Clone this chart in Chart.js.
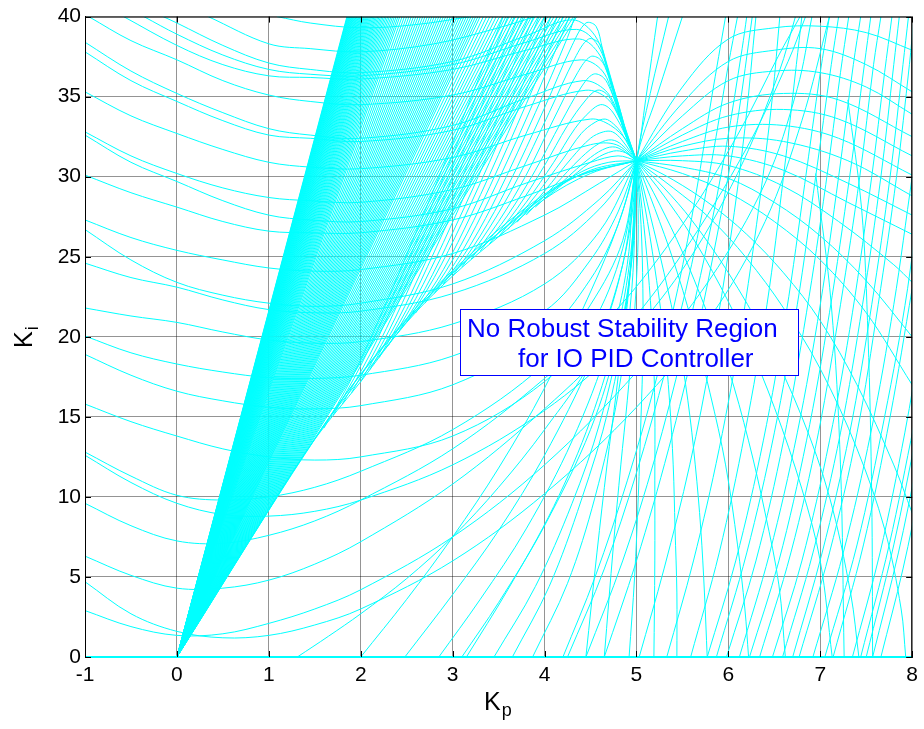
<!DOCTYPE html>
<html lang="en">
<head>
    <meta charset="UTF-8">
    <title>No Robust Stability Region</title>
    <script src="https://cdn.jsdelivr.net/npm/chart.js"></script>
    <style>
        body { margin: 0; background: #fff; }
        canvas { display: block; }
    </style>
</head>
<body>
    <canvas id="myChart" width="924" height="729"></canvas>

    <script>
        // axis ticks
        const xTicks = [-1, 0, 1, 2, 3, 4, 5, 6, 7, 8];
        const yTicks = [0, 5, 10, 15, 20, 25, 30, 35, 40];

        // straight lines from the origin, Kp where each one leaves the top (Ki = 40)
        const fanTopKp = [1.850, 1.855, 1.860, 1.866, 1.872, 1.878, 1.884, 1.890, 1.897, 1.904, 1.911, 1.918,
            1.925, 1.933, 1.941, 1.949, 1.957, 1.965, 1.974, 1.983, 1.992, 2.001, 2.010, 2.020, 2.030, 2.040,
            2.051, 2.062, 2.073, 2.084, 2.096, 2.108, 2.120, 2.133, 2.146, 2.159, 2.172, 2.186, 2.200, 2.215,
            2.230, 2.245, 2.261, 2.277, 2.294, 2.311, 2.329, 2.347, 2.366, 2.385, 2.405,
            2.425, 2.45, 2.475, 2.50, 2.525, 2.55, 2.575, 2.60, 2.625, 2.65, 2.675, 2.70, 2.725, 2.75, 2.775,
            2.80, 2.825, 2.85, 2.875, 2.90, 2.925, 2.95, 2.975, 3.00, 3.025, 3.05, 3.075, 3.10, 3.125, 3.15,
            3.175, 3.20, 3.225, 3.25, 3.275, 3.30,
            3.335, 3.37, 3.405, 3.44, 3.475, 3.51, 3.545, 3.58, 3.615, 3.65, 3.685, 3.72, 3.755, 3.79, 3.825,
            3.86, 3.895, 3.93, 3.965, 4.00, 4.035, 4.07, 4.105, 4.14, 4.175, 4.21, 4.245, 4.28, 4.315, 4.35];

        // lower edge of the fan running into the cusp at (5, 31)   [Kp, Ki, Kp, Ki, ...]
        const envelopeCurves = [
            [0, 0, 1, 9.2, 1.5, 13.6, 2, 17.2, 2.5, 20.9, 3, 23.8, 3.5, 26.25, 4, 28.6, 4.5, 30.2, 5, 31],
            [0, 0, 1.5, 13.65, 2.2, 18.8, 2.8, 22.9, 3.4, 26.0, 4.0, 28.8, 4.5, 30.4, 5, 31],
            [0, 0, 1.6, 14.5, 2.4, 20.4, 3.1, 24.5, 3.7, 27.4, 4.3, 29.9, 5, 31],
            [0, 0, 1.7, 15.3, 2.6, 21.8, 3.3, 25.7, 3.9, 28.5, 4.4, 30.3, 4.7, 30.9, 5, 31]
        ];

        // curves peeling off the lower edge, going up to the top or arching into the cusp
        const peelCurves = [
            [1.6, 14.3, 1.9, 17.4, 2.2, 21.1, 2.6, 26.5, 3.1, 33.5, 3.55, 40],
            [1.7, 15.1, 2.0, 18.2, 2.3, 21.9, 2.7, 27.2, 3.2, 34.2, 3.6, 40],
            [1.8, 15.8, 2.1, 18.9, 2.4, 22.6, 2.8, 27.9, 3.3, 34.9, 3.67, 40],
            [1.9, 16.5, 2.2, 19.6, 2.5, 23.3, 2.9, 28.6, 3.4, 35.6, 3.72, 40],
            [2.0, 17.2, 2.3, 20.3, 2.6, 24.0, 3.0, 29.3, 3.5, 36.3, 3.77, 40],
            [2.1, 17.95, 2.4, 21.0, 2.7, 24.6, 3.1, 29.9, 3.6, 36.9, 3.83, 40],
            [2.2, 18.7, 2.5, 21.7, 2.8, 25.3, 3.2, 30.5, 3.7, 37.5, 3.88, 40],
            [2.3, 19.45, 2.6, 22.4, 2.9, 25.9, 3.3, 31.1, 3.8, 38.0, 3.94, 40],
            [2.4, 20.2, 2.7, 23.0, 3.0, 26.5, 3.4, 31.6, 3.9, 38.5, 4.0, 40],
            [2.5, 20.9, 2.8, 23.7, 3.1, 27.1, 3.5, 32.2, 4.0, 39.0, 4.07, 40],
            [2.6, 21.5, 2.9, 24.2, 3.2, 27.6, 3.6, 32.7, 4.05, 38.8, 4.14, 40],
            [2.7, 22.1, 3.0, 24.8, 3.3, 28.1, 3.7, 33.2, 4.1, 38.6, 4.2, 40],
            [2.8, 22.7, 3.1, 25.3, 3.4, 28.6, 3.8, 33.6, 4.2, 39.0, 4.27, 40],
            [2.9, 23.3, 3.2, 25.8, 3.5, 29.0, 3.9, 34.0, 4.25, 38.7, 4.33, 40],
            [3.0, 23.8, 3.3, 26.3, 3.6, 29.4, 4.0, 34.3, 4.3, 38.2, 4.45, 39.6, 4.56, 39.4, 4.63, 38.0, 4.73, 36.0, 4.83, 34.0, 4.92, 32.0, 5, 31],
            [3.1, 24.35, 3.4, 26.8, 3.7, 29.8, 4.05, 34.0, 4.33, 37.4, 4.48, 38.6, 4.6, 38.3, 4.66, 37.3, 4.75, 35.5, 4.85, 33.5, 4.94, 31.8, 5, 31],
            [3.2, 24.85, 3.5, 27.2, 3.8, 30.1, 4.1, 33.6, 4.36, 36.5, 4.5, 37.5, 4.61, 37.3, 4.69, 36.4, 4.78, 35.0, 4.87, 33.2, 5, 31],
            [3.3, 25.35, 3.6, 27.6, 3.9, 30.4, 4.18, 33.4, 4.4, 35.6, 4.53, 36.4, 4.64, 36.2, 4.72, 35.4, 4.82, 34.0, 4.9, 32.6, 5, 31],
            [3.4, 25.8, 3.7, 28.0, 4.0, 30.7, 4.25, 33.2, 4.45, 34.8, 4.57, 35.4, 4.67, 35.2, 4.75, 34.5, 4.85, 33.2, 5, 31],
            [3.5, 26.25, 3.8, 28.4, 4.1, 30.9, 4.33, 33.0, 4.5, 34.1, 4.61, 34.5, 4.7, 34.3, 4.79, 33.6, 4.88, 32.6, 5, 31],
            [3.6, 26.7, 3.9, 28.8, 4.2, 31.1, 4.4, 32.7, 4.55, 33.4, 4.66, 33.6, 4.75, 33.3, 4.84, 32.7, 5, 31],
            [3.7, 27.15, 4.0, 29.1, 4.3, 31.2, 4.5, 32.4, 4.64, 32.8, 4.74, 32.8, 4.84, 32.3, 5, 31],
            [3.8, 27.6, 4.1, 29.4, 4.4, 31.2, 4.6, 32.1, 4.73, 32.3, 4.84, 32.0, 5, 31],
            [3.9, 28.1, 4.2, 29.7, 4.5, 31.2, 4.68, 31.8, 4.8, 31.8, 5, 31],
            [4.0, 28.6, 4.3, 30.0, 4.55, 31.1, 4.75, 31.6, 4.88, 31.5, 5, 31]
        ];

        // U-shaped curves coming in from the left / top
        const leftArcs = [
            [1.09, 40, 1.45, 39.6, 2, 39.3, 2.6, 39.5, 3.2, 40],
            [0.34, 40, 1, 38.3, 1.45, 38.0, 2, 37.8, 2.8, 38.3, 3.5, 39.3, 3.9, 40],
            [-0.15, 40, 0, 39.6, 0.5, 38.2, 1, 37.1, 1.45, 36.7, 2, 36.5, 3, 37.2, 3.8, 38.8, 4.3, 39.8, 4.55, 38.8, 4.7, 36.4, 4.85, 33.4, 5, 31],
            [-0.36, 40, 0, 38.9, 0.5, 37.6, 1, 36.7, 1.45, 36.4, 2, 36.3, 3, 37.0, 3.8, 38.4, 4.35, 39.2, 4.58, 38.2, 4.72, 35.9, 4.86, 33.0, 5, 31],
            [-0.58, 40, 0, 38.2, 0.5, 37.0, 1, 36.3, 1.45, 36.2, 2, 36.1, 3, 36.7, 3.8, 37.9, 4.38, 38.6, 4.6, 37.6, 4.74, 35.4, 4.87, 32.8, 5, 31],
            [-0.96, 40, -0.5, 38.5, 0, 37.3, 0.5, 36.0, 1, 35.1, 1.45, 34.7, 2, 34.5, 3, 35.1, 3.8, 36.4, 4.4, 37.3, 4.63, 36.6, 4.76, 34.8, 4.88, 32.6, 5, 31],
            [-1, 38.4, -0.5, 36.6, 0, 35.2, 0.5, 34.0, 1, 33.0, 1.45, 32.6, 2, 32.4, 3, 33.2, 3.8, 34.9, 4.42, 36.0, 4.66, 35.4, 4.8, 34.0, 4.9, 32.4, 5, 31],
            [-1, 37.8, -0.5, 36.0, 0, 34.7, 0.5, 33.5, 1, 32.6, 1.45, 32.4, 2, 32.2, 3, 32.9, 3.8, 34.4, 4.45, 35.4, 4.68, 34.9, 4.82, 33.6, 4.91, 32.2, 5, 31],
            [-1, 35.3, -0.5, 33.8, 0, 32.7, 0.5, 31.7, 1, 30.9, 1.45, 30.6, 2, 30.5, 3, 31.2, 3.8, 32.6, 4.5, 33.6, 4.72, 33.2, 4.9, 32.2, 5, 31],
            [-1, 32.8, -0.5, 31.3, 0, 30.2, 0.5, 29.3, 1, 28.7, 1.45, 28.5, 2, 28.4, 3, 29.2, 3.8, 30.7, 4.5, 32.0, 4.78, 32.0, 5, 31],
            [-1, 32.6, -0.5, 30.9, 0, 29.7, 0.5, 28.5, 1, 27.6, 1.45, 27.3, 2, 27.2, 3, 28.0, 3.8, 29.6, 4.5, 30.9, 4.8, 31.3, 5, 31],
            [-1, 30.1, -0.5, 29.0, 0, 28.1, 0.5, 27.2, 1, 26.6, 1.45, 26.5, 2, 26.5, 3, 27.3, 3.8, 28.8, 4.5, 30.3, 5, 31],
            [-1, 27.3, -0.5, 26.2, 0, 25.4, 0.5, 24.8, 1, 24.3, 1.5, 24.1, 2, 24.2, 3, 25.2, 4, 27.6, 4.6, 29.6, 5, 31],
            [-1, 26.7, -0.5, 24.8, 0, 23.4, 0.5, 22.6, 1, 22.1, 1.5, 21.9, 2, 22.1, 3, 23.3, 4, 26.0, 4.6, 28.6, 5, 31],
            [-1, 24.6, -0.5, 23.7, 0, 23.1, 0.5, 22.3, 1, 21.7, 1.5, 21.5, 2, 21.6, 3, 22.7, 4, 25.2, 4.6, 28.0, 5, 31],
            [-1, 21.8, -0.5, 21.3, 0, 20.9, 0.5, 20.3, 1, 19.8, 1.5, 19.6, 2, 19.7, 3, 20.8, 4, 23.3, 4.6, 26.6, 5, 31],
            [-1, 20.05, -0.5, 19.0, 0, 18.3, 0.5, 17.8, 1, 17.45, 1.5, 17.4, 2, 17.6, 3, 18.8, 4, 21.6, 4.5, 24.8, 4.8, 27.8, 5, 31],
            [-1, 18.9, -0.5, 17.6, 0, 16.6, 0.5, 16.0, 1, 15.6, 1.5, 15.5, 2, 15.7, 3, 17.0, 4, 20.2, 4.5, 23.6, 4.8, 27.0, 5, 31],
            [-1, 15.8, -0.5, 14.7, 0, 13.8, 0.5, 13.0, 1, 12.5, 1.5, 12.3, 2, 12.5, 3, 13.8, 4, 17.2, 4.5, 20.6, 4.85, 25.5, 5, 31],
            [-1, 12.8, -0.5, 11.3, 0, 10.1, 0.5, 9.8, 1, 10.0, 1.5, 10.6, 2, 11.6, 3, 14.2, 4, 18.3, 4.5, 22.0, 4.85, 26.0, 5, 31],
            [-1, 12.6, -0.5, 10.9, 0, 9.6, 0.5, 8.9, 1, 8.8, 1.5, 9.1, 2, 9.8, 3, 12.0, 4, 15.4, 4.8, 19.3, 5.5, 24.2, 6.1, 30.2, 6.55, 36.5, 6.73, 40],
            [-1, 9.6, -0.5, 8.2, 0, 7.25, 0.5, 7.1, 1, 7.6, 1.5, 8.5, 2, 9.8, 3, 13.0, 4, 17.4, 4.8, 21.8, 5.5, 27.0, 6.1, 32.6, 6.55, 37.6, 6.78, 40],
            [-1, 6.3, -0.5, 5.1, 0, 4.3, 0.5, 4.3, 1, 4.8, 1.5, 5.8, 2, 7.2, 3, 10.8, 4, 15.5, 4.8, 20.0, 5.5, 25.2, 6.2, 31.8, 6.65, 37.2, 6.84, 40],
            [-1, 4.7, -0.5, 2.7, 0, 1.6, 0.5, 1.2, 1, 1.35, 1.5, 2.0, 2, 3.0, 3, 6.0, 4, 10.2, 5, 15.6, 5.8, 21.2, 6.4, 27.2, 6.8, 33.5, 7.1, 40],
            [-1, 2.9, -0.5, 1.9, 0, 1.35, 0.5, 1.45, 1, 2.1, 1.5, 3.0, 2, 4.2, 3, 7.5, 4, 12.0, 5, 17.8, 5.8, 23.6, 6.4, 29.6, 6.75, 35.5, 6.91, 40]
        ];

        // curves rising from the Kp axis
        const risers = [
            [1.31, 0, 1.65, 1.3, 2.0, 2.7, 2.5, 4.9, 3, 7.5, 3.5, 10.6, 4, 14.2, 4.5, 18.5, 4.85, 24.5, 5, 31],
            [2.0, 0, 2.5, 3.6, 3, 7.5, 3.5, 11.8, 4, 16.8, 4.5, 22.8, 4.8, 27.0, 5, 31, 5.1, 34.8, 5.23, 40],
            [2.48, 0, 3, 3.9, 3.5, 7.9, 4, 12.6, 4.5, 18.4, 4.8, 23.4, 4.95, 27.5, 5, 31, 5.15, 35.2, 5.35, 40],
            [2.85, 0, 3.3, 3.6, 3.8, 8.0, 4.3, 13.5, 4.7, 19.5, 4.9, 24.5, 5, 31, 5.22, 35.0, 5.5, 40],
            [3.1, 0, 3.5, 3.4, 4, 8.2, 4.5, 14.2, 4.8, 19.8, 4.95, 25.0, 5, 31],
            [3.15, 0, 3.6, 4.2, 4.1, 9.4, 4.5, 14.8, 4.8, 20.6, 4.95, 25.8, 5, 31],
            [3.45, 0, 3.9, 4.4, 4.3, 9.6, 4.6, 14.6, 4.85, 20.8, 4.97, 26.0, 5, 31],
            [3.65, 0, 4.05, 4.4, 4.4, 9.8, 4.7, 15.6, 4.9, 22.0, 5, 31],
            [3.87, 0, 4.25, 4.6, 4.55, 10.0, 4.8, 16.4, 4.95, 23.0, 5, 31],
            [4.2, 0, 4.55, 5.0, 4.9, 11.0, 5.2, 17.0, 5.45, 23.0, 5.65, 29.0, 5.82, 35.0, 5.97, 40],
            [4.25, 0, 4.65, 5.5, 5.0, 11.5, 5.32, 18.0, 5.6, 24.5, 5.82, 31.0, 6.0, 37.0, 6.1, 40],
            [4.45, 0, 4.85, 6.0, 5.2, 12.4, 5.5, 19.0, 5.76, 25.5, 5.98, 32.0, 6.15, 38.0, 6.2, 40],
            [4.65, 0, 5.0, 6.0, 5.35, 13.0, 5.65, 20.0, 5.9, 27.0, 6.1, 33.5, 6.26, 40]
        ];

        // steep lines on the right
        const steepLines = [
            [5.03, 0, 5.3, 5.5, 5.58, 12, 5.82, 19, 6.02, 26, 6.18, 33, 6.3, 40],
            [5.33, 0, 5.62, 6, 5.9, 13, 6.14, 20.5, 6.33, 28, 6.48, 35, 6.56, 40],
            [5.59, 0, 5.9, 6.5, 6.18, 14, 6.42, 22, 6.6, 30, 6.74, 37, 6.8, 40],
            [5.77, 0, 6.08, 6, 6.38, 13.5, 6.63, 21.5, 6.83, 29.5, 7.0, 36.5, 7.1, 40],
            [5.87, 0, 6.2, 6.5, 6.5, 14, 6.75, 22, 6.95, 30, 7.12, 37, 7.2, 40],
            [5.98, 0, 6.3, 6, 6.6, 13.5, 6.85, 21.5, 7.06, 29.5, 7.22, 36.5, 7.31, 40],
            [6.12, 0, 6.45, 6.5, 6.75, 14, 7.0, 22, 7.2, 30, 7.36, 37, 7.44, 40],
            [6.23, 0, 6.55, 6, 6.85, 13.5, 7.1, 21.5, 7.32, 30, 7.48, 37, 7.55, 40],
            [6.34, 0, 6.68, 6.5, 6.98, 14, 7.22, 22, 7.43, 30, 7.58, 37, 7.66, 40],
            [6.48, 0, 6.8, 6, 7.1, 13.5, 7.35, 21.5, 7.56, 30, 7.7, 36.5, 7.78, 40],
            [6.59, 0, 6.92, 6.5, 7.22, 14, 7.46, 22, 7.66, 30, 7.8, 37, 7.86, 40],
            [6.7, 0, 7.02, 6.5, 7.32, 14, 7.56, 22, 7.76, 30, 7.9, 37, 7.96, 40],
            [6.77, 0, 7.1, 6.5, 7.4, 14, 7.63, 22, 7.83, 30, 7.97, 37, 8.02, 40],
            [6.92, 0, 7.25, 6.5, 7.55, 14, 7.8, 22, 8.0, 30],
            [7.05, 0, 7.4, 7, 7.7, 15, 7.95, 23, 8.1, 30],
            [7.14, 0, 7.47, 7, 7.76, 15, 8.0, 23],
            [7.35, 0, 7.65, 6.5, 7.92, 14, 8.1, 20],
            [7.44, 0, 7.75, 7, 8.02, 14.5],
            [7.5, 0, 7.8, 7, 8.05, 14],
            [7.57, 0, 7.85, 6.5, 8.05, 12],
            [7.66, 0, 7.9, 5.5, 8.1, 11]
        ];

        // near-vertical drops on the right
        const dropLines = [
            [7.3, 34.8, 7.45, 28, 7.52, 20, 7.56, 10, 7.57, 0],
            [6.95, 30.2, 7.12, 22, 7.22, 12, 7.26, 0]
        ];

        // arcs leaving the cusp to the right
        const cuspArcs = [
            [5, 31, 5.5, 35.6, 6, 38.6, 6.5, 39.3, 7, 39.4, 7.5, 39.0, 8, 37.9],
            [5, 31, 5.5, 34.6, 6, 37.2, 6.5, 37.9, 7, 38.0, 7.5, 37.0, 8, 35.3],
            [5, 31, 5.5, 33.8, 6, 36.0, 6.5, 36.6, 7, 36.5, 7.5, 35.6, 8, 33.9],
            [5, 31, 5.5, 33.0, 6, 34.6, 6.6, 35.2, 7.2, 34.8, 8, 32.5],
            [5, 31, 5.5, 32.6, 6, 33.8, 6.6, 34.2, 7.2, 33.6, 8, 31.3],
            [5, 31, 5.5, 32.2, 6, 33.1, 6.6, 33.2, 7.2, 32.4, 8, 30.1],
            [5, 31, 5.5, 31.9, 6, 32.4, 6.6, 32.2, 7.3, 31.0, 8, 28.8],
            [5, 31, 5.5, 31.6, 6, 31.9, 6.6, 31.3, 7.3, 29.6, 8, 27.6],
            [5, 31, 5.5, 31.3, 6, 31.3, 6.6, 30.4, 7.3, 28.4, 8, 26.4],
            [5, 31, 5.5, 31.0, 6, 30.7, 6.6, 29.4, 7.2, 27.2, 7.8, 24.5, 8, 23.4],
            [5, 31, 5.5, 30.6, 6, 29.9, 6.5, 28.4, 7, 26.3, 7.5, 23.5, 8, 20.0],
            [5, 31, 5.5, 30.2, 6, 29.0, 6.5, 27.2, 7, 24.8, 7.5, 21.5, 8, 17.0],
            [5, 31, 5.4, 29.8, 5.8, 28.3, 6.2, 26.4, 6.6, 24.0, 7, 21.0, 7.4, 17.0, 7.8, 12.0, 8, 9.0],
            [5, 31, 5.4, 29.3, 5.8, 27.4, 6.2, 24.9, 6.6, 21.8, 7, 18.0, 7.4, 13.0, 7.7, 8.0, 7.88, 3.0, 7.93, 0],
            [5, 31, 5.3, 29.3, 5.6, 27.3, 6, 24.0, 6.4, 20.0, 6.8, 15.0, 7.1, 10.0, 7.33, 4.0, 7.42, 0],
            [5, 31, 5.3, 28.8, 5.6, 26.3, 5.9, 23.3, 6.2, 19.8, 6.5, 15.6, 6.8, 10.5, 7.0, 6.0, 7.13, 0]
        ];

        // arcs falling from the cusp to the Kp axis
        const cuspDrops = [
            [5, 31, 5.25, 28.3, 5.5, 25.3, 5.75, 21.8, 6.0, 18.0, 6.22, 13.5, 6.4, 9.0, 6.55, 4.5, 6.62, 0],
            [5, 31, 5.2, 28.0, 5.4, 24.8, 5.6, 21.0, 5.8, 16.5, 5.97, 12.0, 6.1, 7.0, 6.18, 3.0, 6.22, 0],
            [5, 31, 5.15, 27.6, 5.3, 24.0, 5.45, 20.0, 5.56, 16.0, 5.64, 12.0, 5.7, 8.0, 5.74, 4.0, 5.77, 0],
            [5, 31, 5.12, 27.2, 5.22, 23.5, 5.3, 20.0, 5.36, 16.0, 5.4, 12.0, 5.42, 8.0, 5.44, 4.0, 5.44, 0],
            [5, 31, 5.08, 27.0, 5.14, 23.2, 5.18, 19.5, 5.2, 15.5, 5.2, 11.0, 5.2, 6.0, 5.19, 0],
            [5, 31, 5.05, 27.0, 5.07, 23.0, 5.07, 19.0, 5.05, 15.0, 5.02, 10.0, 4.98, 5.0, 4.92, 0],
            [5, 31, 5.02, 27.0, 5.0, 23.5, 4.96, 20.0, 4.9, 16.0, 4.83, 12.0, 4.75, 7.0, 4.65, 0],
            [5, 31, 4.98, 27.5, 4.93, 24.0, 4.86, 20.5, 4.78, 16.5, 4.68, 12.0, 4.57, 6.5, 4.45, 0]
        ];

        // line lying on the Kp axis
        const baseLine = [-1, 0, 8, 0];

        const noteLines = ['No Robust Stability Region', 'for IO PID Controller'];

        const cyan = '#00ffff';
        const datasets = [];

        function toPoints(flat) {
            const pts = [];
            for (let i = 0; i < flat.length; i += 2) {
                pts.push({ x: flat[i], y: flat[i + 1] });
            }
            return pts;
        }

        function addCurve(pts, extra) {
            datasets.push(Object.assign({
                data: pts,
                showLine: true,
                borderColor: cyan,
                borderWidth: 1,
                pointRadius: 0,
                pointHoverRadius: 0,
                tension: 0.35,
                fill: false
            }, extra || {}));
        }

        fanTopKp.forEach(t => addCurve([{ x: 0, y: 0 }, { x: t, y: 40 }], { tension: 0 }));
        [envelopeCurves, peelCurves, leftArcs, risers, steepLines, dropLines, cuspArcs, cuspDrops]
            .forEach(group => group.forEach(c => addCurve(toPoints(c))));
        addCurve(toPoints(baseLine), { tension: 0, borderWidth: 2, clip: 3 });

        const font = 'Liberation Sans, Arial, sans-serif';

        const decor = {
            id: 'decor',
            afterDraw(chart) {
                const { ctx, chartArea: a, scales: { x, y } } = chart;
                ctx.save();

                // box and inward ticks
                ctx.strokeStyle = '#000';
                ctx.lineWidth = 1;
                ctx.beginPath();
                ctx.moveTo(a.left + 0.5, a.bottom);
                ctx.lineTo(a.left + 0.5, a.top + 0.5);
                ctx.lineTo(a.right - 0.5, a.top + 0.5);
                ctx.lineTo(a.right - 0.5, a.bottom);
                xTicks.forEach(v => {
                    const px = Math.round(x.getPixelForValue(v)) + 0.5;
                    ctx.moveTo(px, a.bottom); ctx.lineTo(px, a.bottom - 6);
                    ctx.moveTo(px, a.top); ctx.lineTo(px, a.top + 6);
                });
                yTicks.forEach(v => {
                    const py = Math.round(y.getPixelForValue(v)) + 0.5;
                    ctx.moveTo(a.left, py); ctx.lineTo(a.left + 6, py);
                    ctx.moveTo(a.right, py); ctx.lineTo(a.right - 6, py);
                });
                ctx.stroke();

                // axis titles
                ctx.fillStyle = '#000';
                ctx.textBaseline = 'alphabetic';
                ctx.textAlign = 'left';
                ctx.font = '25px ' + font;
                ctx.fillText('K', 484, 710);
                const kw = ctx.measureText('K').width;
                ctx.font = '18px ' + font;
                ctx.fillText('p', 484 + kw + 1, 716);

                ctx.save();
                ctx.translate(32, 348);
                ctx.rotate(-Math.PI / 2);
                ctx.font = '25px ' + font;
                ctx.fillText('K', 0, 0);
                ctx.font = '18px ' + font;
                ctx.fillText('i', kw + 1, 6);
                ctx.restore();

                // note box
                ctx.fillStyle = '#fff';
                ctx.fillRect(460, 309, 338, 67);
                ctx.strokeStyle = '#0000ff';
                ctx.strokeRect(460.5, 309.5, 338, 66);
                ctx.fillStyle = '#0000ff';
                ctx.font = '26px ' + font;
                ctx.fillText(noteLines[0], 467, 337);
                ctx.fillText(noteLines[1], 518, 367);

                ctx.restore();
            }
        };

        const tickFont = { family: font, size: 21 };

        new Chart(document.getElementById('myChart').getContext('2d'), {
            type: 'scatter',
            data: { datasets },
            options: {
                responsive: false,
                animation: false,
                events: [],
                elements: { line: { capBezierPoints: false } },
                layout: { padding: { top: 13, right: 9, left: 0, bottom: 0 } },
                plugins: { legend: { display: false }, tooltip: { enabled: false } },
                scales: {
                    x: {
                        type: 'linear',
                        min: -1,
                        max: 8,
                        afterBuildTicks: s => { s.ticks = xTicks.map(v => ({ value: v })); },
                        afterFit: s => { s.height = 72; },
                        ticks: { color: '#000', font: tickFont, padding: 6, maxRotation: 0, autoSkip: false },
                        grid: { color: 'rgba(0,0,0,0.42)', drawTicks: false },
                        border: { color: '#000' }
                    },
                    y: {
                        type: 'linear',
                        min: 0,
                        max: 40,
                        afterBuildTicks: s => { s.ticks = yTicks.map(v => ({ value: v })); },
                        afterFit: s => { s.width = 85; },
                        ticks: { color: '#000', font: tickFont, padding: 4, autoSkip: false },
                        grid: { color: 'rgba(0,0,0,0.42)', drawTicks: false },
                        border: { color: '#000' }
                    }
                }
            },
            plugins: [decor]
        });
    </script>
</body>
</html>
